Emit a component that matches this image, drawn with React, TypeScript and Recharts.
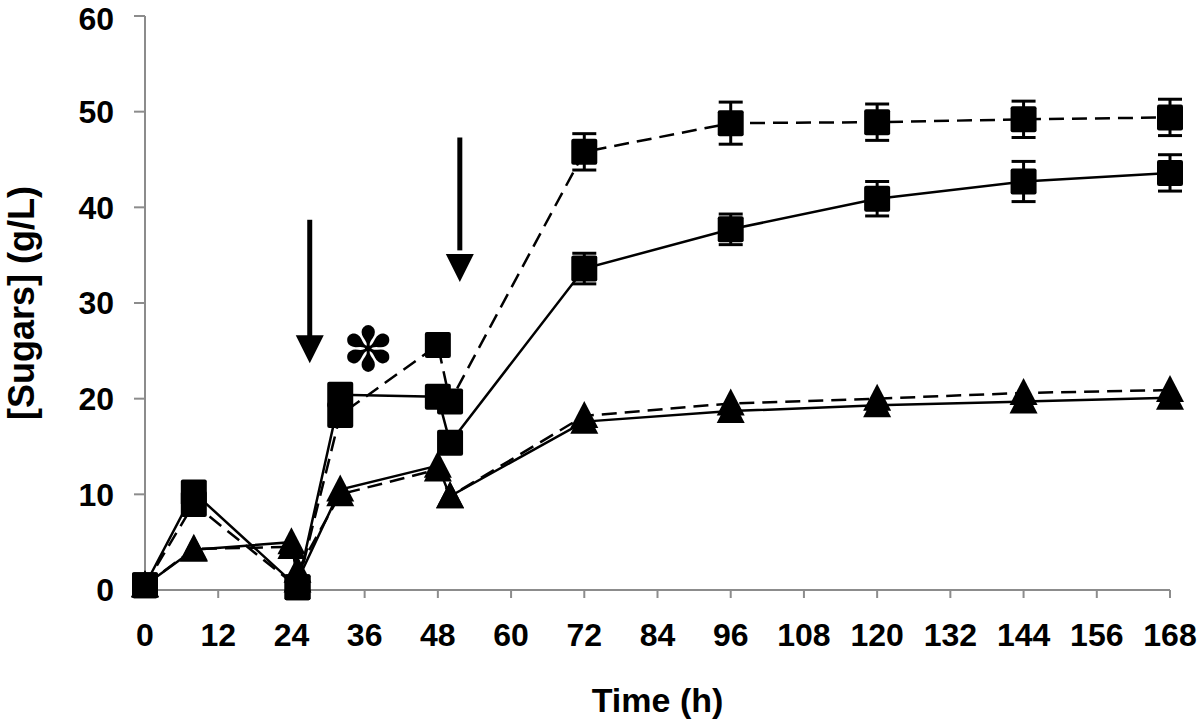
import { LineChart, Line, XAxis, YAxis, ErrorBar, ReferenceLine, ReferenceDot } from 'recharts'

// sampling times (h)
const sqTimes = [0, 8, 25, 32, 48, 50, 72, 96, 120, 144, 168]
const triTimes = [0, 8, 24, 25, 32, 48, 50, 72, 96, 120, 144, 168]

// squares, solid line
const sqSolid = [0.5, 10.2, 0.3, 20.4, 20.2, 15.4, 33.6, 37.7, 40.9, 42.7, 43.6]
const sqSolidErr = [0, 0, 0, 0, 0, 0, 1.6, 1.6, 1.8, 2.1, 1.9]
// squares, dashed line
const sqDashed = [0.5, 9.0, 0.3, 18.3, 25.6, 19.7, 45.8, 48.8, 48.9, 49.2, 49.4]
const sqDashedErr = [0, 0, 0, 0, 0, 0, 1.9, 2.2, 1.9, 1.9, 1.9]
// triangles
const triSolid = [0.5, 4.2, 5.0, 1.0, 10.5, 13.0, 9.8, 17.6, 18.7, 19.3, 19.7, 20.1]
const triDashed = [0.5, 4.3, 4.5, 2.0, 10.0, 12.6, 9.8, 18.2, 19.5, 20.0, 20.6, 20.9]

const xTicks = [0, 12, 24, 36, 48, 60, 72, 84, 96, 108, 120, 132, 144, 156, 168]
const yTicks = [0, 10, 20, 30, 40, 50, 60]

// feeding arrows: [time, top, head base, tip]
const arrows = [
    [27, 38.7, 26.5, 23.7],
    [51.6, 47.3, 35.5, 32.2],
]
const asterisk = { t: 36.6, v: 25.1 }

const toRows = (times: number[], vals: number[], errs?: number[]) =>
    times.map((t, i) => ({ t, v: vals[i], err: errs ? errs[i] : 0 }))

const axisGray = '#8c8c8c'
const font = '"Liberation Sans", Arial, sans-serif'
const tickStyle = { fill: '#000', fontSize: 32, fontWeight: 700, fontFamily: font }
const dash = '15 8'

const Square = (p: any) => {
    if (p.cx == null || p.cy == null) return <g key={p.index} />
    return <rect key={p.index} x={p.cx - 13} y={p.cy - 13} width={26} height={26} rx={2} fill="#000" />
}

const Triangle = (p: any) => {
    if (p.cx == null || p.cy == null) return <g key={p.index} />
    const { cx, cy } = p
    return <polygon key={p.index} points={`${cx},${cy - 15} ${cx - 14},${cy + 12} ${cx + 14},${cy + 12}`} fill="#000" />
}

const ArrowHead = (p: any) => (
    <polygon points={`${p.cx},${p.cy} ${p.cx - 14},${p.cy - 28} ${p.cx + 14},${p.cy - 28}`} fill="#000" />
)

const Star = (p: any) => (
    <text x={p.cx} y={p.cy} textAnchor="middle" dominantBaseline="central" fontSize={62} fontFamily="DejaVu Sans" fill="#000">
        ✽
    </text>
)

export default function App() {
    return (
        <div style={{ width: 1200, height: 721, background: '#fff' }}>
            <style>{'body{margin:0}'}</style>
            <LineChart width={1200} height={721} margin={{ top: 16, right: 30, bottom: 31, left: 0 }}>
                <XAxis
                    type="number"
                    dataKey="t"
                    domain={[0, 168]}
                    ticks={xTicks}
                    allowDuplicatedCategory={false}
                    stroke={axisGray}
                    strokeWidth={2}
                    tickSize={8}
                    tickMargin={25}
                    tick={tickStyle}
                    height={100}
                    label={(props: any) => {
                        const vb = props.viewBox
                        return (
                            <text x={vb.x + vb.width / 2} y={vb.y + 110} textAnchor="middle" dominantBaseline="central" fontSize={34} fontWeight={700} fontFamily={font} fill="#000">
                                Time (h)
                            </text>
                        )
                    }}
                />
                <YAxis
                    type="number"
                    dataKey="v"
                    domain={[0, 60]}
                    ticks={yTicks}
                    stroke={axisGray}
                    strokeWidth={2}
                    tickSize={11}
                    tickMargin={20}
                    tick={tickStyle}
                    width={145}
                    label={(props: any) => {
                        const vb = props.viewBox
                        const cx = 21
                        const cy = vb.y + vb.height / 2
                        return (
                            <text x={cx} y={cy} transform={`rotate(-90 ${cx} ${cy})`} textAnchor="middle" dominantBaseline="central" fontSize={36} fontWeight={700} fontFamily={font} fill="#000">
                                [Sugars] (g/L)
                            </text>
                        )
                    }}
                />
                <Line data={toRows(triTimes, triDashed)} dataKey="v" stroke="#000" strokeWidth={2.5} strokeDasharray={dash} dot={Triangle} isAnimationActive={false} />
                <Line data={toRows(triTimes, triSolid)} dataKey="v" stroke="#000" strokeWidth={2.5} dot={Triangle} isAnimationActive={false} />
                <Line data={toRows(sqTimes, sqDashed, sqDashedErr)} dataKey="v" stroke="#000" strokeWidth={2.5} strokeDasharray={dash} dot={Square} isAnimationActive={false}>
                    <ErrorBar dataKey="err" direction="y" width={12} stroke="#000" strokeWidth={3} />
                </Line>
                <Line data={toRows(sqTimes, sqSolid, sqSolidErr)} dataKey="v" stroke="#000" strokeWidth={2.5} dot={Square} isAnimationActive={false}>
                    <ErrorBar dataKey="err" direction="y" width={12} stroke="#000" strokeWidth={3} />
                </Line>
                {arrows.map(([t, top, base], i) => (
                    <ReferenceLine key={'s' + i} segment={[{ x: t, y: top }, { x: t, y: base }]} stroke="#000" strokeWidth={5} />
                ))}
                {arrows.map(([t, , , tip], i) => (
                    <ReferenceDot key={'h' + i} x={t} y={tip} r={1} shape={ArrowHead} />
                ))}
                <ReferenceDot x={asterisk.t} y={asterisk.v} r={1} shape={Star} />
            </LineChart>
        </div>
    )
}
